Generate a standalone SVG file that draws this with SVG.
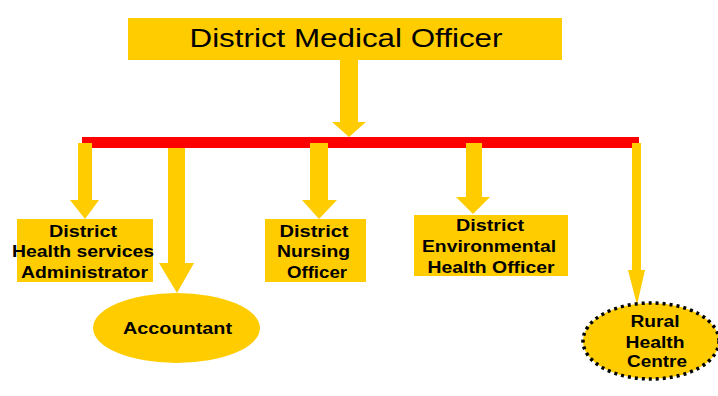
<svg xmlns="http://www.w3.org/2000/svg" width="718" height="396" viewBox="0 0 718 396">
<style>
.box{fill:#FFCC00}
.arr{fill:#FFCC00}
.t{font-family:"Liberation Sans",Arial,sans-serif;font-weight:bold;font-size:16px;fill:#000;text-anchor:middle}
.big{font-family:"Liberation Sans",Arial,sans-serif;font-size:26px;fill:#000;text-anchor:middle}
</style>
<rect width="718" height="396" fill="#fff"/>
<g id="connectors">
<rect x="82" y="137" width="557" height="11" fill="#FF0000"/>
<polygon class="arr" points="340,60 358,60 358,122 366,122 349,137 332,122 340,122"/>
<polygon class="arr" points="78,143 92,143 92,200 99,200 85,219 70,200 78,200"/>
<polygon class="arr" points="168,148 185,148 185,263 194,263 177,293 159,263 168,263"/>
<polygon class="arr" points="310,143 328,143 328,200 337,200 319,219 302,200 310,200"/>
<polygon class="arr" points="466,143 482,143 482,197 490,197 473,214 456,197 466,197"/>
<polygon class="arr" points="632,143 641,143 641,270 645,270 637,305 628,270 632,270"/>
</g>
<g id="dmo">
<rect class="box" x="128" y="18" width="434" height="42"/>
<text class="big" x="346" y="47" textLength="313" lengthAdjust="spacingAndGlyphs">District Medical Officer</text>
</g>
<g id="dhsa">
<rect class="box" x="17" y="219" width="136" height="63"/>
<text class="t" x="83" y="237" textLength="68" lengthAdjust="spacingAndGlyphs">District</text>
<text class="t" x="83" y="257" textLength="142" lengthAdjust="spacingAndGlyphs">Health services</text>
<text class="t" x="84.5" y="278" textLength="127" lengthAdjust="spacingAndGlyphs">Administrator</text>
</g>
<g id="accountant">
<ellipse class="box" cx="176.5" cy="328" rx="83.5" ry="35"/>
<text class="t" x="177.5" y="334" textLength="109" lengthAdjust="spacingAndGlyphs">Accountant</text>
</g>
<g id="nursing">
<rect class="box" x="265" y="219" width="101" height="63"/>
<text class="t" x="314" y="237" textLength="69" lengthAdjust="spacingAndGlyphs">District</text>
<text class="t" x="313.5" y="257" textLength="73" lengthAdjust="spacingAndGlyphs">Nursing</text>
<text class="t" x="317" y="278" textLength="60" lengthAdjust="spacingAndGlyphs">Officer</text>
</g>
<g id="environmental">
<rect class="box" x="414" y="215" width="154" height="61"/>
<text class="t" x="490" y="231" textLength="68" lengthAdjust="spacingAndGlyphs">District</text>
<text class="t" x="489" y="252" textLength="134" lengthAdjust="spacingAndGlyphs">Environmental</text>
<text class="t" x="491" y="273" textLength="127" lengthAdjust="spacingAndGlyphs">Health Officer</text>
</g>
<g id="rural">
<ellipse class="box" cx="651" cy="341" rx="68" ry="38" stroke="#000" stroke-width="3.5" stroke-dasharray="3 4"/>
<text class="t" x="655" y="327" textLength="49" lengthAdjust="spacingAndGlyphs">Rural</text>
<text class="t" x="655" y="348" textLength="59" lengthAdjust="spacingAndGlyphs">Health</text>
<text class="t" x="657" y="367" textLength="60" lengthAdjust="spacingAndGlyphs">Centre</text>
</g>
</svg>
